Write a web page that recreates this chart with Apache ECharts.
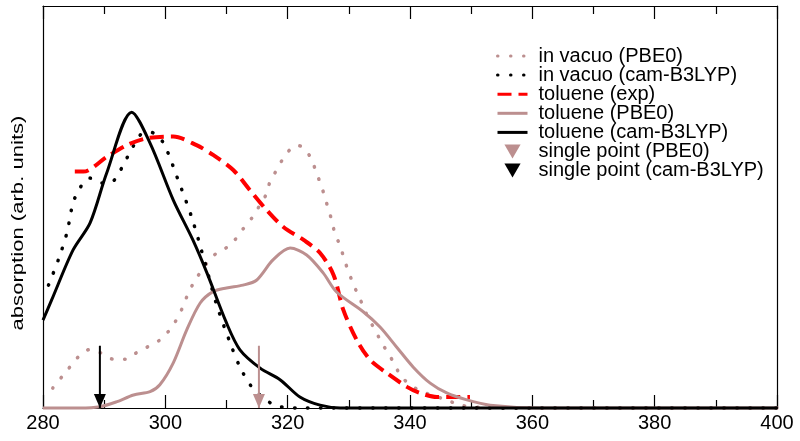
<!DOCTYPE html>
<html>
<head>
<meta charset="utf-8">
<script src="https://cdn.jsdelivr.net/npm/echarts@6/dist/echarts.min.js"></script>
<style>
html,body{margin:0;padding:0;background:#fff;}
#chart{width:800px;height:441px;}
</style>
</head>
<body>
<div id="chart"></div>
<script>
// ---- data (wavelength nm, absorption arb. units) ----
var xTicks = [280, 300, 320, 340, 360, 380, 400];
var seriesNames = ['in vacuo (PBE0)', 'in vacuo (cam-B3LYP)', 'toluene (exp)', 'toluene (PBE0)', 'toluene (cam-B3LYP)', 'single point (PBE0)', 'single point (cam-B3LYP)'];

var vacuoPBE0 = [[281.6,0.049],[283.1,0.077],[284.4,0.101],[285.8,0.126],[287.7,0.144],[289.5,0.135],[291.5,0.120],[293.6,0.120],[295.3,0.136],[297.2,0.151],[299.1,0.167],[300.6,0.190],[301.7,0.214],[302.7,0.243],[303.5,0.273],[304.6,0.307],[306.8,0.356],[308.4,0.381],[310.6,0.400],[312.7,0.440],[314.4,0.472],[315.5,0.500],[316.6,0.528],[317.1,0.556],[318.2,0.585],[319.3,0.614],[320.7,0.640],[321.6,0.645],[322.6,0.640],[323.8,0.614],[324.6,0.583],[325.3,0.554],[326.0,0.523],[326.6,0.491],[327.2,0.462],[327.7,0.430],[328.6,0.398],[329.2,0.368],[329.9,0.337],[330.7,0.306],[331.5,0.278],[332.4,0.249],[333.2,0.220],[334.3,0.192],[335.4,0.159],[336.5,0.134],[337.5,0.106],[338.6,0.077],[340.5,0.052],[342.7,0.036],[346.0,0.020],[348.2,0.007],[352,0.001],[360,0],[380,0],[400,0]];

var vacuoCAM = [[280.9,0.302],[282.5,0.364],[283.9,0.430],[285.2,0.516],[287.7,0.565],[289.6,0.553],[291.2,0.555],[293.7,0.614],[295.9,0.671],[297.3,0.678],[298.0,0.676],[299.7,0.651],[302.1,0.560],[304.3,0.469],[306.5,0.356],[308.4,0.253],[310.6,0.160],[312.2,0.101],[314.3,0.049],[317.9,0.007],[322,0],[340,0],[370,0],[400,0]];

var tolueneExp = [[285.2,0.581],[286.6,0.581],[290.4,0.617],[293.7,0.646],[297.0,0.663],[301.3,0.667],[305.1,0.646],[307.8,0.622],[311.1,0.585],[313.8,0.536],[316.6,0.486],[319.3,0.445],[322.6,0.413],[325.3,0.381],[327.5,0.327],[329.1,0.241],[331.3,0.167],[333.5,0.118],[336.2,0.086],[339.5,0.052],[341.6,0.037],[344.4,0.027],[347.6,0.027],[349.8,0.027]];

var toluenePBE0 = [[280,0],[286,0],[289.3,0.003],[292.0,0.015],[294.8,0.032],[297.5,0.040],[299.1,0.057],[301.3,0.111],[303.5,0.192],[305.7,0.258],[307.8,0.286],[310.0,0.295],[312.7,0.302],[314.9,0.314],[317.6,0.364],[320.4,0.393],[323.1,0.376],[325.8,0.332],[328.0,0.285],[332.4,0.236],[335.1,0.199],[337.8,0.150],[340.5,0.101],[343.3,0.061],[346.0,0.037],[349.3,0.020],[353.1,0.007],[361.2,0],[380,0],[400,0]];

var tolueneCAM = [[280,0.216],[281.4,0.265],[284.9,0.388],[287.7,0.455],[290.4,0.577],[294.5,0.727],[297.5,0.651],[301.3,0.511],[304.5,0.413],[306.8,0.332],[310.0,0.209],[312.2,0.143],[315.5,0.098],[318.8,0.069],[322.0,0.027],[325.3,0.007],[328.6,0],[350,0],[400,0]];

var singlePBE0 = [[315.3,0.153],[315.3,0]];
var singleCAM = [[289.3,0.153],[289.3,0]];

// ---- styles ----
var ROSY = '#bc8f8f';
var FONT = 'Liberation Sans, Arial, Helvetica, sans-serif';
var TRI = 'path://M0,0 L15,0 L7.5,13 Z';

function curve(name, data, color, width, type) {
  return {
    name: name, type: 'line', data: data, smooth: 0.3, symbol: 'none', clip: false,
    color: color,
    lineStyle: { color: color, width: width, type: type, cap: (Array.isArray(type) && type[0] < 1) ? 'round' : 'butt' },
    itemStyle: { color: color },
    emphasis: { disabled: true }, silent: true, animation: false
  };
}
function arrow(name, data, color) {
  return {
    name: name, type: 'line', clip: false, silent: true, animation: false,
    data: [{ value: data[0], symbol: 'none' }, { value: data[1] }],
    symbol: TRI, symbolSize: [12, 14], symbolOffset: [0, -7], showSymbol: true, showAllSymbol: true,
    color: color,
    lineStyle: { color: color, width: 2 },
    itemStyle: { color: color },
    emphasis: { disabled: true }, z: 5
  };
}
var hideSym = { opacity: 0 };

var chart = echarts.init(document.getElementById('chart'), null, { renderer: 'canvas' });
chart.setOption({
  animation: false,
  backgroundColor: '#fff',
  grid: { left: 43, right: 23, top: 6, bottom: 33 },
  xAxis: [{
    type: 'value', min: 280, max: 400, interval: 20, position: 'bottom',
    axisLine: { show: true, onZero: false, lineStyle: { color: '#000', width: 1.2 } },
    axisTick: { show: true, inside: true, length: 13, lineStyle: { color: '#000', width: 1.2 } },
    minorTick: { show: true, splitNumber: 2, length: 8, lineStyle: { color: '#000', width: 1.2 } },
    axisLabel: { show: true, margin: 5, color: '#000', fontSize: 20, fontFamily: FONT,
      formatter: function (v) { return xTicks.indexOf(v) >= 0 ? String(v) : ''; } },
    splitLine: { show: false }
  }, {
    type: 'value', min: 280, max: 400, interval: 20, position: 'top',
    axisLine: { show: true, onZero: false, lineStyle: { color: '#000', width: 1.2 } },
    axisTick: { show: true, inside: true, length: 13, lineStyle: { color: '#000', width: 1.2 } },
    minorTick: { show: true, splitNumber: 2, length: 8, lineStyle: { color: '#000', width: 1.2 } },
    axisLabel: { show: false }, splitLine: { show: false }
  }],
  yAxis: [{
    type: 'value', min: 0, max: 0.988, position: 'left',
    axisLine: { show: true, onZero: false, lineStyle: { color: '#000', width: 1.2 } },
    axisTick: { show: false }, axisLabel: { show: false }, splitLine: { show: false }
  }, {
    type: 'value', min: 0, max: 0.988, position: 'right',
    axisLine: { show: true, onZero: false, lineStyle: { color: '#000', width: 1.2 } },
    axisTick: { show: false }, axisLabel: { show: false }, splitLine: { show: false }
  }],
  legend: {
    orient: 'vertical', left: 491, top: 41, itemWidth: 30, itemHeight: 14, itemGap: -0.9,
    selectedMode: false, symbolKeepAspect: true,
    lineStyle: { width: 3 },
    textStyle: { color: '#000', fontSize: 20, fontFamily: FONT, lineHeight: 19.4, padding: [0, 0, 0, 6] },
    data: [
      { name: seriesNames[0], itemStyle: hideSym }, { name: seriesNames[1], itemStyle: hideSym },
      { name: seriesNames[2], itemStyle: hideSym }, { name: seriesNames[3], itemStyle: hideSym },
      { name: seriesNames[4], itemStyle: hideSym },
      { name: seriesNames[5], icon: TRI }, { name: seriesNames[6], icon: TRI }
    ]
  },
  graphic: [{
    type: 'text', x: 18, y: 223, rotation: Math.PI / 2, scaleX: 1.3,
    style: { text: 'absorption (arb. units)', font: '17px ' + FONT, fill: '#000', align: 'center', verticalAlign: 'middle' }
  }],
  series: [
    curve(seriesNames[0], vacuoPBE0, ROSY, 3.5, [0.5, 12.5]),
    curve(seriesNames[1], vacuoCAM, '#000', 3.5, [0.5, 12.5]),
    curve(seriesNames[2], tolueneExp, '#ff0000', 4, [14, 7]),
    curve(seriesNames[3], toluenePBE0, ROSY, 3, 'solid'),
    curve(seriesNames[4], tolueneCAM, '#000', 3, 'solid'),
    arrow(seriesNames[5], singlePBE0, ROSY),
    arrow(seriesNames[6], singleCAM, '#000')
  ]
});
</script>
</body>
</html>
